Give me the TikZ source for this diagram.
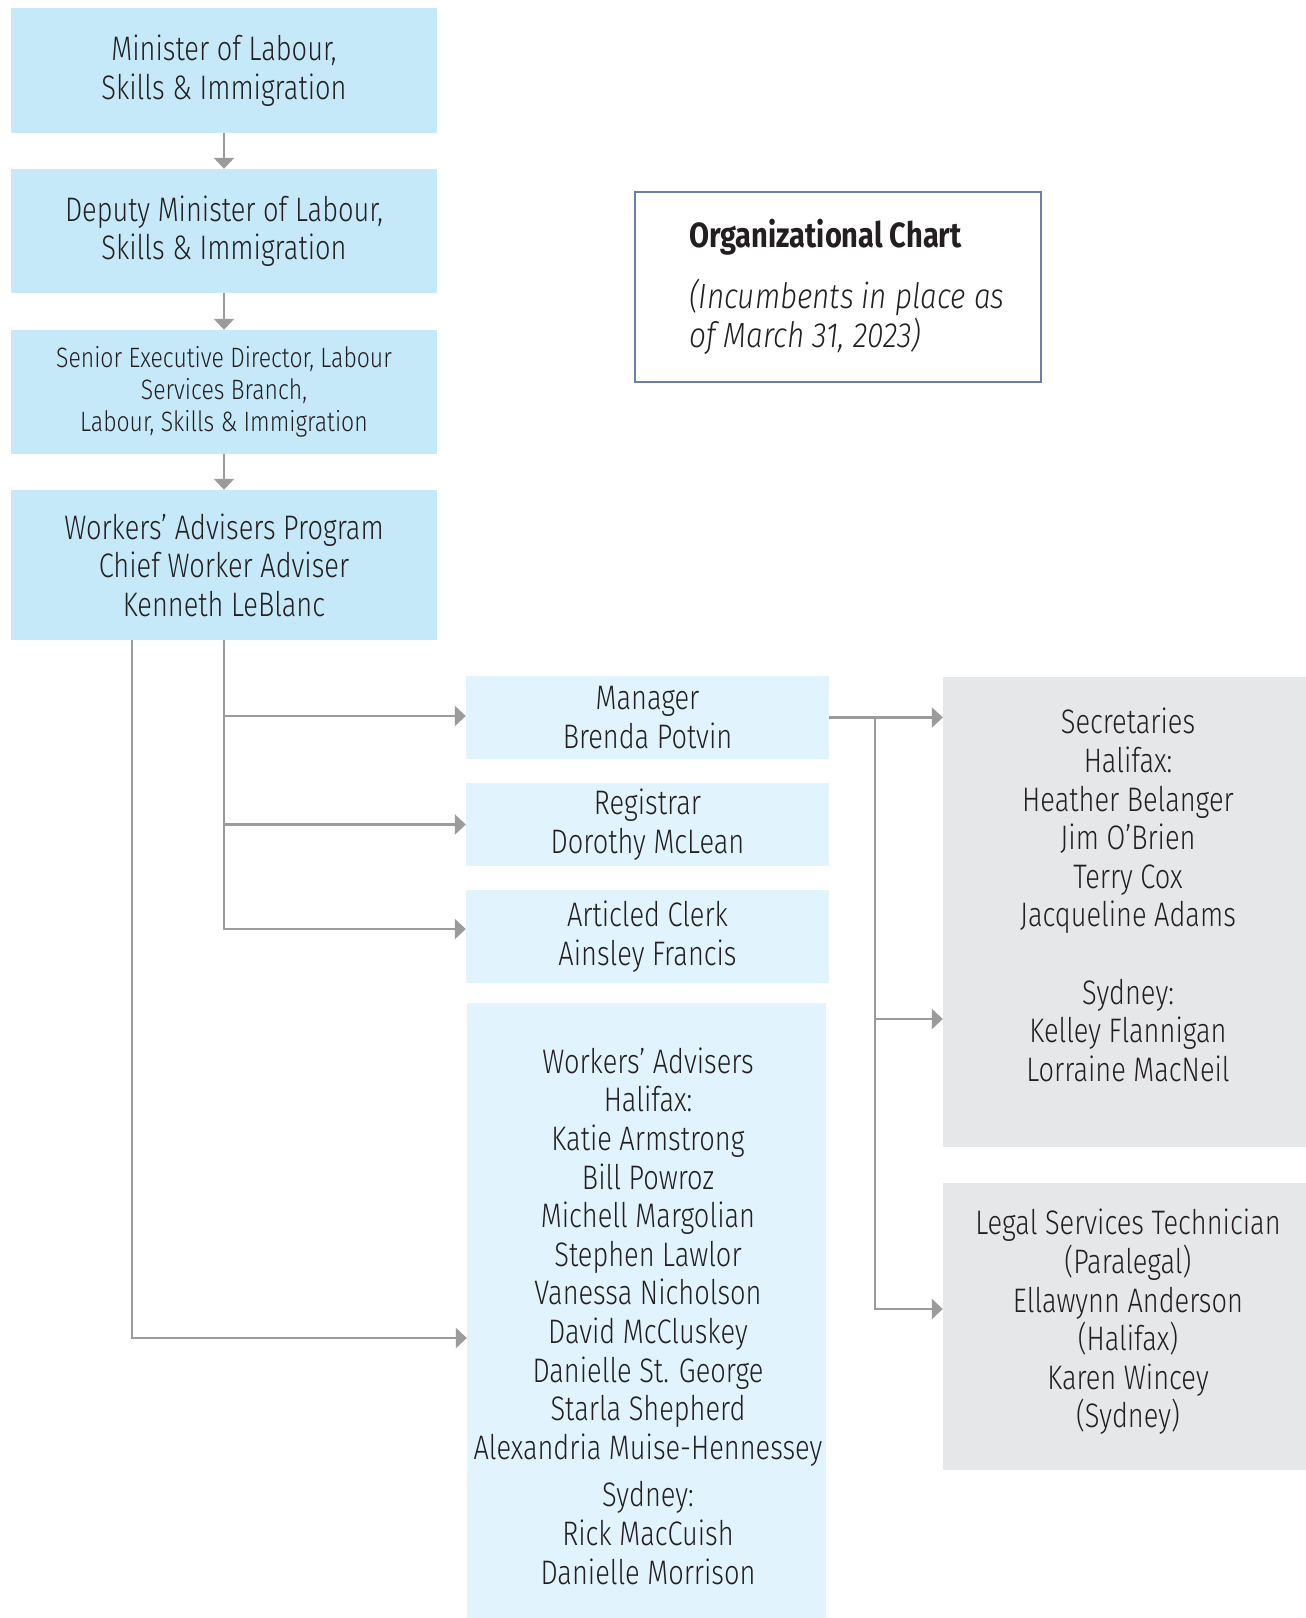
\documentclass[tikz,border=0pt]{standalone}
\usepackage{fontspec}
\setmainfont{Fira Sans Light}[FakeStretch=0.8]
\newfontfamily\smallfam{Fira Sans Light}[FakeStretch=0.82]
\newfontfamily\titlefont{Fira Sans Bold}[FakeStretch=0.83]
\newfontfamily\itfont{Fira Sans Light Italic}[FakeStretch=0.85]
\usetikzlibrary{arrows.meta}
\definecolor{bluedark}{HTML}{C6E9F9}
\definecolor{bluelight}{HTML}{E1F3FC}
\definecolor{grayb}{HTML}{E6E7E8}
\definecolor{linec}{HTML}{9B9B9B}
\definecolor{txt}{HTML}{231F20}
\definecolor{framec}{HTML}{6E7EA6}
\begin{document}
\begin{tikzpicture}[x=1pt,y=-1pt,
  mainfont/.style={font=\fontsize{34}{38.6}\selectfont, text=txt},
  smallfont/.style={font=\smallfam\fontsize{28}{32}\selectfont, text=txt},
  bx/.style={rectangle, inner sep=0pt, align=center, mainfont},
  topbox/.style={bx, fill=bluedark, minimum width=426pt},
  midbox/.style={bx, fill=bluelight, minimum width=363pt},
  graybox/.style={bx, fill=grayb, minimum width=363pt},
  txtnode/.style={inner sep=0pt, align=center, mainfont},
  ln/.style={draw=linec, line width=2.5pt},
  arr/.style={ln, -{Triangle[length=11pt,width=20pt]}}
]
\useasboundingbox (0,0) rectangle (1306,1618);
\fill[white] (0,0) rectangle (1306,1618);

% left column
\node[topbox, minimum height=125pt] (min) at (224,70.5) {Minister of Labour,\\Skills \& Immigration};
\node[topbox, minimum height=124pt] (dep) at (224,231) {Deputy Minister of Labour,\\Skills \& Immigration};
\node[topbox, minimum height=124pt, smallfont] (sed) at (224,392) {Senior Executive Director, Labour\\Services Branch,\\Labour, Skills \& Immigration};
\node[topbox, minimum height=150pt] (wap) at (224,565) {Workers’ Advisers Program\\Chief Worker Adviser\\Kenneth LeBlanc};

% title
\node[rectangle, draw=framec, line width=2pt, fill=white, minimum width=406pt, minimum height=190pt] (title) at (838,287) {};
\node[anchor=base west, inner sep=0pt, font=\titlefont\fontsize{35}{39}\selectfont, text=txt] (ttl) at (689,247) {Organizational Chart};
\node[anchor=base west, inner sep=0pt, align=left, font=\itfont\fontsize{35}{39}\selectfont, text=txt] (sub) at (689,347) {(Incumbents in place as\\of March 31, 2023)};

% middle column
\node[midbox, minimum height=83pt] (mgr) at (647.5,717.5) {Manager\\Brenda Potvin};
\node[midbox, minimum height=83pt] (reg) at (647.5,824.5) {Registrar\\Dorothy McLean};
\node[midbox, minimum height=93pt] (art) at (647.5,936.5) {Articled Clerk\\Ainsley Francis};
\node[midbox, minimum width=359pt, minimum height=615pt] (wa) at (646.5,1310.5) {};
\node[txtnode] (wat) at (648,1316) {Workers’ Advisers\\Halifax:\\Katie Armstrong\\Bill Powroz\\Michell Margolian\\Stephen Lawlor\\Vanessa Nicholson\\David McCluskey\\Danielle St. George\\Starla Shepherd\\Alexandria Muise-Hennessey\\[9pt]Sydney:\\Rick MacCuish\\Danielle Morrison};

% right column
\node[graybox, minimum height=470pt] (sec) at (1124.5,912) {};
\node[txtnode] (sect) at (1128,895) {Secretaries\\Halifax:\\Heather Belanger\\Jim O’Brien\\Terry Cox\\Jacqueline Adams\\[38.6pt]Sydney:\\Kelley Flannigan\\Lorraine MacNeil};
\node[graybox, minimum height=287pt] (leg) at (1124.5,1326.5) {};
\node[txtnode] (legt) at (1128,1322) {Legal Services Technician\\(Paralegal)\\Ellawynn Anderson\\(Halifax)\\Karen Wincey\\(Sydney)};

% connectors
\draw[arr] (min) -- (dep);
\draw[arr] (dep) -- (sed);
\draw[arr] (sed) -- (wap);
\draw[arr] (wap.south) |- ([yshift=1.5pt]mgr.west);
\draw[arr] (wap.south) |- (reg.west);
\draw[arr] (wap.south) |- ([yshift=7.5pt]art.west);
\draw[arr] ([xshift=-92pt]wap.south) |- ([yshift=-27.5pt]wa.west);
\draw[arr] (mgr.east) -- (sec.west |- mgr.east);
\draw[arr] ([xshift=46pt]mgr.east) |- ([yshift=-107pt]sec.west);
\draw[arr] ([xshift=46pt]mgr.east) |- ([yshift=17.5pt]leg.west);
\end{tikzpicture}
\end{document}
